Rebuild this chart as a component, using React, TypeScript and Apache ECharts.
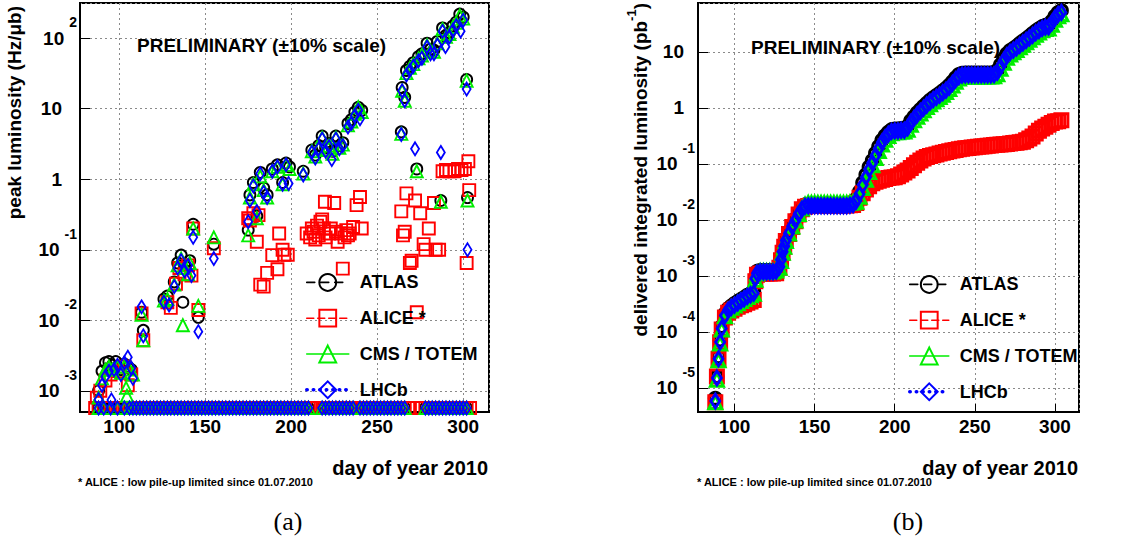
import React, { useEffect, useRef } from 'react';
import * as echarts from 'echarts';

const FONT = '"Liberation Sans", Arial, Helvetica, sans-serif';

// ---------- axis ranges ----------
const dayMin = 77.2;
const dayMax = 315;
const peakMin = 5e-4;
const peakMax = 316;
const intMin = 3.7e-6;
const intMax = 75;
// days with zero peak luminosity are drawn on the lower edge of the log scale
const ZERO_DRAWN = 5.7e-4;

const experiments = ['ATLAS', 'ALICE *', 'CMS / TOTEM', 'LHCb'];

// ---------- (a) peak luminosity [Hz/ub] : [day, value] ----------
const atlasPeak: [number, number][] = [
  [88, 1.0e-3], [90, 1.9e-3], [92, 2.5e-3], [94, 2.6e-3], [96, 2.3e-3], [98, 2.6e-3], [101, 2.0e-3],
  [103, 2.4e-3], [105, 2.2e-3], [107, 2.0e-3], [113, 1.3e-2], [114, 7.2e-3], [126, 2.0e-2], [128, 2.2e-2],
  [132, 3.5e-2], [134, 6.5e-2], [136, 8.4e-2], [137, 1.8e-2], [138, 6.0e-2], [141, 7.0e-2], [143, 0.23],
  [146, 1.1e-2], [155, 0.12], [175, 0.19], [176, 0.6], [178, 0.9], [180, 0.3], [182, 1.25], [184, 0.75],
  [186, 0.6], [189, 1.4], [192, 1.6], [195, 0.9], [197, 1.7], [199, 1.5], [207, 1.3], [212, 2.6],
  [214, 2.2], [216, 3.0], [218, 4.1], [220, 2.8], [222, 3.2], [224, 2.5], [226, 4.1], [228, 3.0],
  [230, 3.3], [233, 6.2], [235, 7.0], [237, 9.0], [239, 10.5], [241, 9.5], [264, 4.7], [264.5, 20],
  [266, 14.5], [267, 35], [269, 40], [271, 45], [273, 1.4], [274, 55], [276, 60], [279, 85], [281, 70],
  [283, 68], [285, 90], [287, 0.5], [288, 140], [290, 110], [292, 120], [294, 150], [296, 170],
  [298, 220], [300, 200], [302, 26], [302.5, 0.55],
];
const alicePeak: [number, number][] = [
  [87, 8e-4], [89, 1.0e-3], [92, 1.4e-3], [95, 1.7e-3], [99, 1.9e-3], [103, 2.2e-3], [105, 1.2e-3],
  [107, 1.7e-3], [113, 1.25e-2], [114, 5.2e-3], [128, 1.8e-2], [130, 1.5e-2], [133, 3.3e-2], [135, 5.5e-2],
  [138, 4.5e-2], [140, 6.0e-2], [142, 4.3e-2], [143, 0.2], [146, 1.4e-2], [155, 0.105], [175, 0.28],
  [176, 0.26], [178, 0.33], [180, 0.13], [181, 0.31], [182, 0.032], [184, 0.03], [186, 0.047],
  [189, 0.084], [192, 0.053], [193, 0.17], [195, 0.1], [196, 0.085], [198, 0.085], [209, 0.17],
  [211, 0.15], [212, 0.2], [213, 0.18], [214, 0.14], [215, 0.22], [216, 0.16], [217, 0.25], [218, 0.27],
  [219, 0.2], [219.6, 0.48], [220, 0.15], [222, 0.17], [223, 0.2], [225, 0.46], [226, 0.18], [227, 0.13],
  [229, 0.17], [230, 0.054], [231, 0.15], [232, 0.19], [233, 0.16], [234, 0.17], [236, 0.21], [238, 0.43],
  [240, 0.56], [241, 0.2], [264, 0.35], [265, 0.16], [266, 0.18], [267, 0.63], [269, 0.065], [270, 0.07],
  [272, 0.5], [273, 0.013], [275, 0.33], [277, 0.12], [278, 0.1], [280, 0.2], [283, 0.46], [284, 0.1],
  [286, 0.1], [288, 1.3], [290, 1.35], [292, 1.3], [295, 1.3], [297, 1.4], [299, 1.35], [301, 1.4],
  [303, 1.8], [303.5, 0.7], [302, 0.065],
];
const cmsPeak: [number, number][] = [
  [88, 8e-4], [90, 1.5e-3], [92, 2.0e-3], [94, 2.2e-3], [96, 2.0e-3], [99, 2.2e-3], [101, 1.8e-3],
  [103, 2.2e-3], [104, 1.1e-3], [104.5, 8.5e-4], [106, 2.0e-3], [108, 1.7e-3], [113, 1.2e-2], [114, 5.2e-3],
  [126, 1.9e-2], [128, 2.0e-2], [132, 3.2e-2], [134, 6.0e-2], [136, 7.5e-2], [137, 8.5e-3], [138, 5.5e-2],
  [140, 4.5e-2], [141, 6.5e-2], [143, 0.2], [146, 1.6e-2], [155, 0.15], [175, 0.16], [176, 0.55],
  [178, 0.85], [180, 0.28], [182, 1.1], [184, 0.7], [186, 0.55], [189, 1.3], [192, 1.5], [195, 0.85],
  [197, 1.6], [199, 1.4], [207, 1.2], [212, 2.5], [214, 2.1], [216, 2.8], [218, 3.9], [220, 2.6],
  [222, 3.0], [224, 2.3], [226, 3.9], [228, 2.8], [230, 3.1], [233, 5.8], [235, 6.6], [237, 8.5],
  [239, 10.5], [241, 9.0], [264, 4.4], [264.5, 18], [266, 13], [267, 32], [269, 38], [271, 43], [273, 1.3],
  [274, 52], [276, 57], [279, 80], [281, 66], [283, 64], [285, 85], [287, 0.48], [288, 135], [290, 105],
  [292, 115], [294, 145], [296, 165], [298, 210], [300, 190], [302, 25], [302.5, 0.5],
];
const lhcbPeak: [number, number][] = [
  [88, 7.5e-4], [90, 1.2e-3], [92, 1.6e-3], [94, 1.9e-3], [95.5, 7.4e-4], [97, 2.0e-3], [99, 2.3e-3],
  [101, 1.7e-3], [103, 2.5e-3], [105, 3.0e-3], [107, 2.1e-3], [108, 1.5e-3], [113, 1.55e-2], [114, 6.0e-3],
  [126, 1.8e-2], [129, 1.65e-2], [132, 3.0e-2], [134, 5.5e-2], [136, 7.0e-2], [138, 5.0e-2], [140, 6.0e-2],
  [142, 4.3e-2], [143, 0.15], [146, 6.9e-3], [155, 0.075], [175, 0.25], [176, 0.5], [178, 0.8], [180, 0.35],
  [182, 1.2], [184, 0.65], [186, 0.55], [189, 1.3], [192, 1.5], [195, 0.85], [197, 1.6], [198.5, 0.87],
  [207, 1.15], [212, 2.4], [214, 2.0], [216, 2.7], [218, 3.7], [220, 2.5], [222, 2.9], [223.6, 1.9],
  [226, 3.7], [228, 2.7], [230, 3.0], [233, 5.5], [235, 6.2], [237, 8.0], [239, 9.5], [240, 7.2],
  [264, 4.3], [264.5, 18], [266, 13], [267, 30], [269, 35], [271, 40], [272, 2.7], [274, 48], [276, 52],
  [279, 75], [281, 60], [283, 60], [285, 80], [287, 2.4], [288, 125], [289.7, 76], [292, 105], [294, 130],
  [296, 150], [298.5, 126], [300, 180], [302, 19], [302.5, 0.1],
];
// days on which the peak luminosity was zero (drawn on the lower edge)
const zeroLumiDays = [
  88, 91, 95, 99, 103, 106, 108, 110, 112, 114, 116, 118, 120, 122, 124, 126, 128, 130, 132, 134, 136, 138,
  140, 142, 144, 146, 148, 150, 152, 154, 156, 158, 160, 162, 164, 166, 168, 170, 172, 174, 176, 178, 180,
  182, 184, 186, 188, 190, 192, 194, 196, 198, 200, 202, 204, 206, 208, 210, 218, 220, 222, 224, 226, 228,
  230, 232, 234, 236, 240, 242, 244, 246, 248, 250, 252, 254, 256, 258, 260, 262, 264, 266, 278, 280, 282,
  284, 286, 288, 290, 292, 294, 296, 298, 300, 302,
];
const aliceExtraZeroDays = [86, 212, 238, 268, 276, 304];

// ---------- (b) delivered integrated luminosity [pb^-1] ----------
const intDays = [
  88, 89, 90, 91, 92, 94, 96, 98, 100, 102, 104, 106, 108, 110, 112, 113, 114, 116, 118, 120, 122, 124,
  126, 128, 129, 130, 131, 132, 134, 136, 138, 140, 142, 144, 146, 148, 150, 152, 154, 156, 158, 160, 162,
  164, 166, 168, 170, 172, 174, 176, 178, 180, 182, 184, 186, 188, 190, 192, 194, 196, 198, 200, 202, 204,
  206, 208, 210, 212, 214, 216, 218, 220, 222, 224, 226, 228, 230, 232, 234, 236, 238, 240, 242, 244, 246,
  248, 250, 252, 254, 256, 258, 260, 262, 264, 266, 268, 270, 272, 274, 276, 278, 280, 282, 284, 286, 288,
  290, 292, 294, 296, 298, 300, 302, 304,
];
const atlasInt = [
  6.5e-6, 1.6e-5, 3.6e-5, 7.2e-5, 1.25e-4, 2.1e-4, 2.6e-4, 2.9e-4, 3.2e-4, 3.5e-4, 3.8e-4, 4.1e-4, 4.5e-4,
  4.8e-4, 5.2e-4, 9.5e-4, 1.2e-3, 1.25e-3, 1.25e-3, 1.25e-3, 1.25e-3, 1.25e-3, 1.3e-3, 1.55e-3, 2.1e-3,
  2.9e-3, 3.6e-3, 4.6e-3, 6.2e-3, 8.2e-3, 1.05e-2, 1.35e-2, 1.65e-2, 1.85e-2, 1.9e-2, 1.9e-2, 1.9e-2,
  1.9e-2, 1.9e-2, 1.9e-2, 1.9e-2, 1.9e-2, 1.9e-2, 1.9e-2, 1.9e-2, 1.9e-2, 1.9e-2, 1.95e-2, 2.0e-2, 0.024,
  0.032, 0.046, 0.064, 0.088, 0.115, 0.155, 0.205, 0.265, 0.32, 0.37, 0.41, 0.42, 0.42, 0.43, 0.43, 0.47,
  0.59, 0.7, 0.82, 0.94, 1.07, 1.22, 1.37, 1.52, 1.67, 1.83, 2.03, 2.25, 2.55, 2.95, 3.45, 3.95, 4.15, 4.2,
  4.2, 4.2, 4.2, 4.2, 4.2, 4.2, 4.2, 4.2, 4.25, 4.7, 5.9, 7.6, 9.3, 10.6, 11.6, 12.7, 14.2, 15.7, 17.3,
  19.2, 21.3, 23.8, 26, 28.3, 29.8, 30.3, 35.5, 43.5, 50.5, 55,
];
const aliceInt = [
  5.5e-6, 1.6e-5, 3.3e-5, 6.5e-5, 1.1e-4, 1.8e-4, 2.2e-4, 2.4e-4, 2.6e-4, 2.8e-4, 3.0e-4, 3.1e-4, 3.3e-4,
  3.5e-4, 3.7e-4, 8e-4, 1.05e-3, 1.1e-3, 1.1e-3, 1.1e-3, 1.1e-3, 1.1e-3, 1.12e-3, 1.4e-3, 1.9e-3, 2.6e-3,
  3.3e-3, 4.2e-3, 5.6e-3, 7.5e-3, 9.5e-3, 1.25e-2, 1.55e-2, 1.72e-2, 1.78e-2, 1.8e-2, 1.8e-2, 1.8e-2,
  1.8e-2, 1.8e-2, 1.8e-2, 1.8e-2, 1.8e-2, 1.8e-2, 1.8e-2, 1.8e-2, 1.8e-2, 1.82e-2, 1.85e-2, 0.02, 0.025,
  0.03, 0.035, 0.04, 0.045, 0.048, 0.05, 0.052, 0.054, 0.056, 0.057, 0.058, 0.06, 0.065, 0.07, 0.076, 0.085,
  0.095, 0.105, 0.115, 0.125, 0.133, 0.138, 0.143, 0.148, 0.153, 0.158, 0.163, 0.168, 0.173, 0.178, 0.183,
  0.187, 0.19, 0.193, 0.196, 0.199, 0.202, 0.205, 0.208, 0.211, 0.214, 0.217, 0.22, 0.222, 0.225, 0.228,
  0.232, 0.236, 0.24, 0.245, 0.25, 0.265, 0.285, 0.31, 0.35, 0.39, 0.43, 0.46, 0.5, 0.54, 0.57, 0.58, 0.6,
];
const cmsInt = [
  5.5e-6, 1.4e-5, 3.1e-5, 6.2e-5, 1.1e-4, 1.9e-4, 2.4e-4, 2.7e-4, 2.95e-4, 3.25e-4, 3.55e-4, 3.85e-4,
  4.2e-4, 4.5e-4, 4.8e-4, 8.5e-4, 1.1e-3, 1.2e-3, 1.2e-3, 1.2e-3, 1.2e-3, 1.2e-3, 1.25e-3, 1.4e-3, 1.85e-3,
  2.6e-3, 3.3e-3, 4.2e-3, 5.7e-3, 7.6e-3, 9.8e-3, 1.28e-2, 1.6e-2, 1.85e-2, 2.0e-2, 2.0e-2, 2.0e-2, 2.0e-2,
  2.0e-2, 2.0e-2, 2.0e-2, 2.0e-2, 2.0e-2, 2.0e-2, 2.0e-2, 2.0e-2, 2.0e-2, 2.02e-2, 2.05e-2, 0.021, 0.026,
  0.037, 0.052, 0.072, 0.095, 0.128, 0.17, 0.222, 0.27, 0.315, 0.355, 0.37, 0.37, 0.38, 0.38, 0.41, 0.5,
  0.6, 0.7, 0.8, 0.91, 1.04, 1.17, 1.3, 1.43, 1.57, 1.73, 1.92, 2.17, 2.52, 2.95, 3.37, 3.6, 3.65, 3.65,
  3.65, 3.65, 3.65, 3.65, 3.65, 3.65, 3.65, 3.7, 4.0, 5.0, 6.4, 7.9, 9.0, 9.9, 10.9, 12.2, 13.5, 14.9, 16.5,
  18.3, 20.4, 22.4, 24.4, 25.8, 26.3, 30.5, 37.5, 43.5, 47,
];
const lhcbInt = [
  5.8e-6, 1.5e-5, 3.3e-5, 6.6e-5, 1.15e-4, 1.95e-4, 2.45e-4, 2.75e-4, 3.0e-4, 3.3e-4, 3.6e-4, 3.9e-4,
  4.3e-4, 4.6e-4, 4.9e-4, 9.0e-4, 1.12e-3, 1.18e-3, 1.18e-3, 1.18e-3, 1.18e-3, 1.18e-3, 1.22e-3, 1.45e-3,
  1.95e-3, 2.7e-3, 3.4e-3, 4.3e-3, 5.8e-3, 7.7e-3, 9.8e-3, 1.27e-2, 1.55e-2, 1.75e-2, 1.78e-2, 1.78e-2,
  1.78e-2, 1.78e-2, 1.78e-2, 1.78e-2, 1.78e-2, 1.78e-2, 1.78e-2, 1.78e-2, 1.78e-2, 1.78e-2, 1.78e-2,
  1.82e-2, 1.88e-2, 0.022, 0.029, 0.042, 0.058, 0.08, 0.105, 0.142, 0.188, 0.245, 0.295, 0.34, 0.38, 0.39,
  0.39, 0.4, 0.4, 0.44, 0.55, 0.65, 0.76, 0.87, 0.99, 1.13, 1.27, 1.41, 1.55, 1.7, 1.88, 2.08, 2.36, 2.74,
  3.2, 3.65, 3.85, 3.9, 3.9, 3.9, 3.9, 3.9, 3.9, 3.9, 3.9, 3.9, 3.95, 4.35, 5.5, 7.0, 8.6, 9.8, 10.8, 11.8,
  13.2, 14.6, 16.1, 17.8, 19.8, 22.1, 24.2, 26.3, 27.7, 28.2, 33, 40.5, 47, 51,
];

// ---------- styles ----------
const looks: Record<string, any> = {
  'ATLAS': { color: '#000000', symbol: 'circle', size: 11, dash: [8, 6], lw: 1.6 },
  'ALICE *': { color: '#ff0000', symbol: 'rect', size: 12, dash: [7, 4], lw: 1.6 },
  'CMS / TOTEM': { color: '#00ee00', symbol: 'triangle', size: 12, dash: 'solid', lw: 1.6 },
  'LHCb': { color: '#0000ff', symbol: 'diamond', size: [8, 13], dash: [0.5, 6], lw: 3.5 },
};

function mkSeries(name: string, data: number[][], axis: number, bw: number, grow: number) {
  const lk = looks[name];
  const size = Array.isArray(lk.size) ? lk.size.map((s: number) => s + grow) : lk.size + grow;
  return {
    type: 'line',
    name,
    xAxisIndex: axis,
    yAxisIndex: axis,
    data,
    symbol: lk.symbol,
    symbolSize: size,
    showSymbol: true,
    showAllSymbol: true,
    silent: true,
    lineStyle: { color: lk.color, width: 2, type: lk.dash, opacity: 0 },
    itemStyle: { color: 'transparent', borderColor: lk.color, borderWidth: bw },
    emphasis: { disabled: true },
  };
}

function logLabel(plainPad: number) {
  return {
    margin: 3,
    showMinLabel: false,
    showMaxLabel: false,
    formatter: (v: number) => {
      const e = Math.round(Math.log10(v));
      if (e === 0) return '{p|1}';
      if (e === 1) return '{p|10}';
      return '{b|10}{e|' + e + '}';
    },
    rich: {
      p: { fontSize: 19, fontWeight: 'bold', fontFamily: FONT, color: '#000', padding: [0, plainPad, 0, 0] },
      b: { fontSize: 19, fontWeight: 'bold', fontFamily: FONT, color: '#000', lineHeight: 46, verticalAlign: 'middle' },
      e: { fontSize: 14, fontWeight: 'bold', fontFamily: FONT, color: '#000', lineHeight: 14, verticalAlign: 'top', padding: [0, 0, 0, 5] },
    },
  };
}

const splitLine = { show: true, lineStyle: { color: '#8a8a8a', type: [2, 3], width: 1 } };

function xAxisCfg(idx: number) {
  return {
    type: 'value',
    gridIndex: idx,
    min: dayMin,
    max: dayMax,
    splitNumber: 5,
    axisLine: { show: true, lineStyle: { color: '#000', width: 2 } },
    axisTick: { show: true, inside: true, length: 8, lineStyle: { color: '#000', width: 1 } },
    axisLabel: {
      margin: 5,
      showMinLabel: false,
      showMaxLabel: false,
      fontSize: 19,
      fontWeight: 'bold',
      fontFamily: FONT,
      color: '#000',
    },
    splitLine,
  };
}

function yAxisCfg(idx: number, min: number, max: number, pad: number) {
  return {
    type: 'log',
    logBase: 10,
    gridIndex: idx,
    min,
    max,
    splitNumber: 5,
    axisLine: { show: true, lineStyle: { color: '#000', width: 2 } },
    axisTick: { show: true, inside: true, length: 10, lineStyle: { color: '#000', width: 1 } },
    axisLabel: logLabel(pad),
    splitLine,
  };
}

function legendCfg(left: number, top: number, itemWidth: number) {
  return {
    orient: 'vertical',
    left,
    top,
    itemWidth,
    itemHeight: 21,
    itemGap: 17,
    selectedMode: false,
    textStyle: { fontSize: 18, fontWeight: 'bold', fontFamily: FONT, color: '#000', padding: [0, 0, 0, 6] },
    lineStyle: { opacity: 1 },
    data: experiments.map((n) => ({
      name: n,
      lineStyle: {
        opacity: 1,
        width: looks[n].lw,
        type: looks[n].dash,
        cap: 'round',
        color: looks[n].color,
      },
    })),
  };
}

const txt = (x: number, y: number, text: string, size: number, extra: any = {}, style: any = {}) => ({
  type: 'text',
  x,
  y,
  silent: true,
  z: 10,
  ...extra,
  style: {
    text,
    fill: '#000',
    fontSize: size,
    fontWeight: 'bold',
    fontFamily: FONT,
    align: 'left',
    verticalAlign: 'middle',
    ...style,
  },
});

export default function App() {
  const ref = useRef<HTMLDivElement>(null);
  useEffect(() => {
    if (!ref.current) return;
    const chart = echarts.init(ref.current, undefined, { renderer: 'svg' });

    const peakSets: Record<string, [number, number][]> = {
      'ATLAS': atlasPeak,
      'ALICE *': alicePeak,
      'CMS / TOTEM': cmsPeak,
      'LHCb': lhcbPeak,
    };
    const intSets: Record<string, number[]> = {
      'ATLAS': atlasInt,
      'ALICE *': aliceInt,
      'CMS / TOTEM': cmsInt,
      'LHCb': lhcbInt,
    };

    const series: any[] = [];
    experiments.forEach((n) => {
      const zeros = n === 'ALICE *' ? zeroLumiDays.concat(aliceExtraZeroDays) : zeroLumiDays;
      const data = (peakSets[n] as number[][]).concat(zeros.map((d) => [d, ZERO_DRAWN]));
      series.push(mkSeries(n, data, 0, 1.9, 0));
    });
    experiments.forEach((n) => {
      const vals = intSets[n];
      series.push(mkSeries(n, intDays.map((d, i) => [d, vals[i]]), 1, 3, 1));
    });

    chart.setOption({
      animation: false,
      backgroundColor: '#ffffff',
      grid: [
        { left: 80, top: 3, width: 409, height: 409, show: true, borderColor: '#000', borderWidth: 2, backgroundColor: '#fff' },
        { left: 698, top: 3, width: 381, height: 409, show: true, borderColor: '#000', borderWidth: 2, backgroundColor: '#fff' },
      ],
      xAxis: [xAxisCfg(0), xAxisCfg(1)],
      yAxis: [yAxisCfg(0, peakMin, peakMax, 15), yAxisCfg(1, intMin, intMax, 11)],
      legend: [legendCfg(300, 268, 42), legendCfg(903, 270, 39)],
      series,
      graphic: [
        txt(137, 45, 'PRELIMINARY (±10% scale)', 19),
        txt(751, 47, 'PRELIMINARY (±10% scale)', 19),
        txt(14, 6, 'peak luminosity (Hz/μb)', 19, { rotation: Math.PI / 2 }, { align: 'right' }),
        txt(640, 3, 'delivered integrated luminosity (pb{s|-1})', 19, { rotation: Math.PI / 2 }, {
          align: 'right',
          lineHeight: 30,
          rich: { s: { fontSize: 13, fontWeight: 'bold', fontFamily: FONT, fill: '#000', lineHeight: 13, verticalAlign: 'top' } },
        }),
        txt(488, 468, 'day of year 2010', 20, {}, { align: 'right' }),
        txt(1078, 468, 'day of year 2010', 20, {}, { align: 'right' }),
        txt(78, 482, '* ALICE : low pile-up limited since 01.07.2010', 11),
        txt(697, 482, '* ALICE : low pile-up limited since 01.07.2010', 11),
        txt(288, 521, '(a)', 26, {}, { align: 'center', fontWeight: 'normal', fontFamily: '"Liberation Serif", "DejaVu Serif", serif' }),
        txt(908, 521, '(b)', 26, {}, { align: 'center', fontWeight: 'normal', fontFamily: '"Liberation Serif", "DejaVu Serif", serif' }),
      ],
    });
    return () => chart.dispose();
  }, []);
  return <div ref={ref} style={{ position: 'fixed', left: 0, top: 0, width: 1121, height: 546 }} />;
}
